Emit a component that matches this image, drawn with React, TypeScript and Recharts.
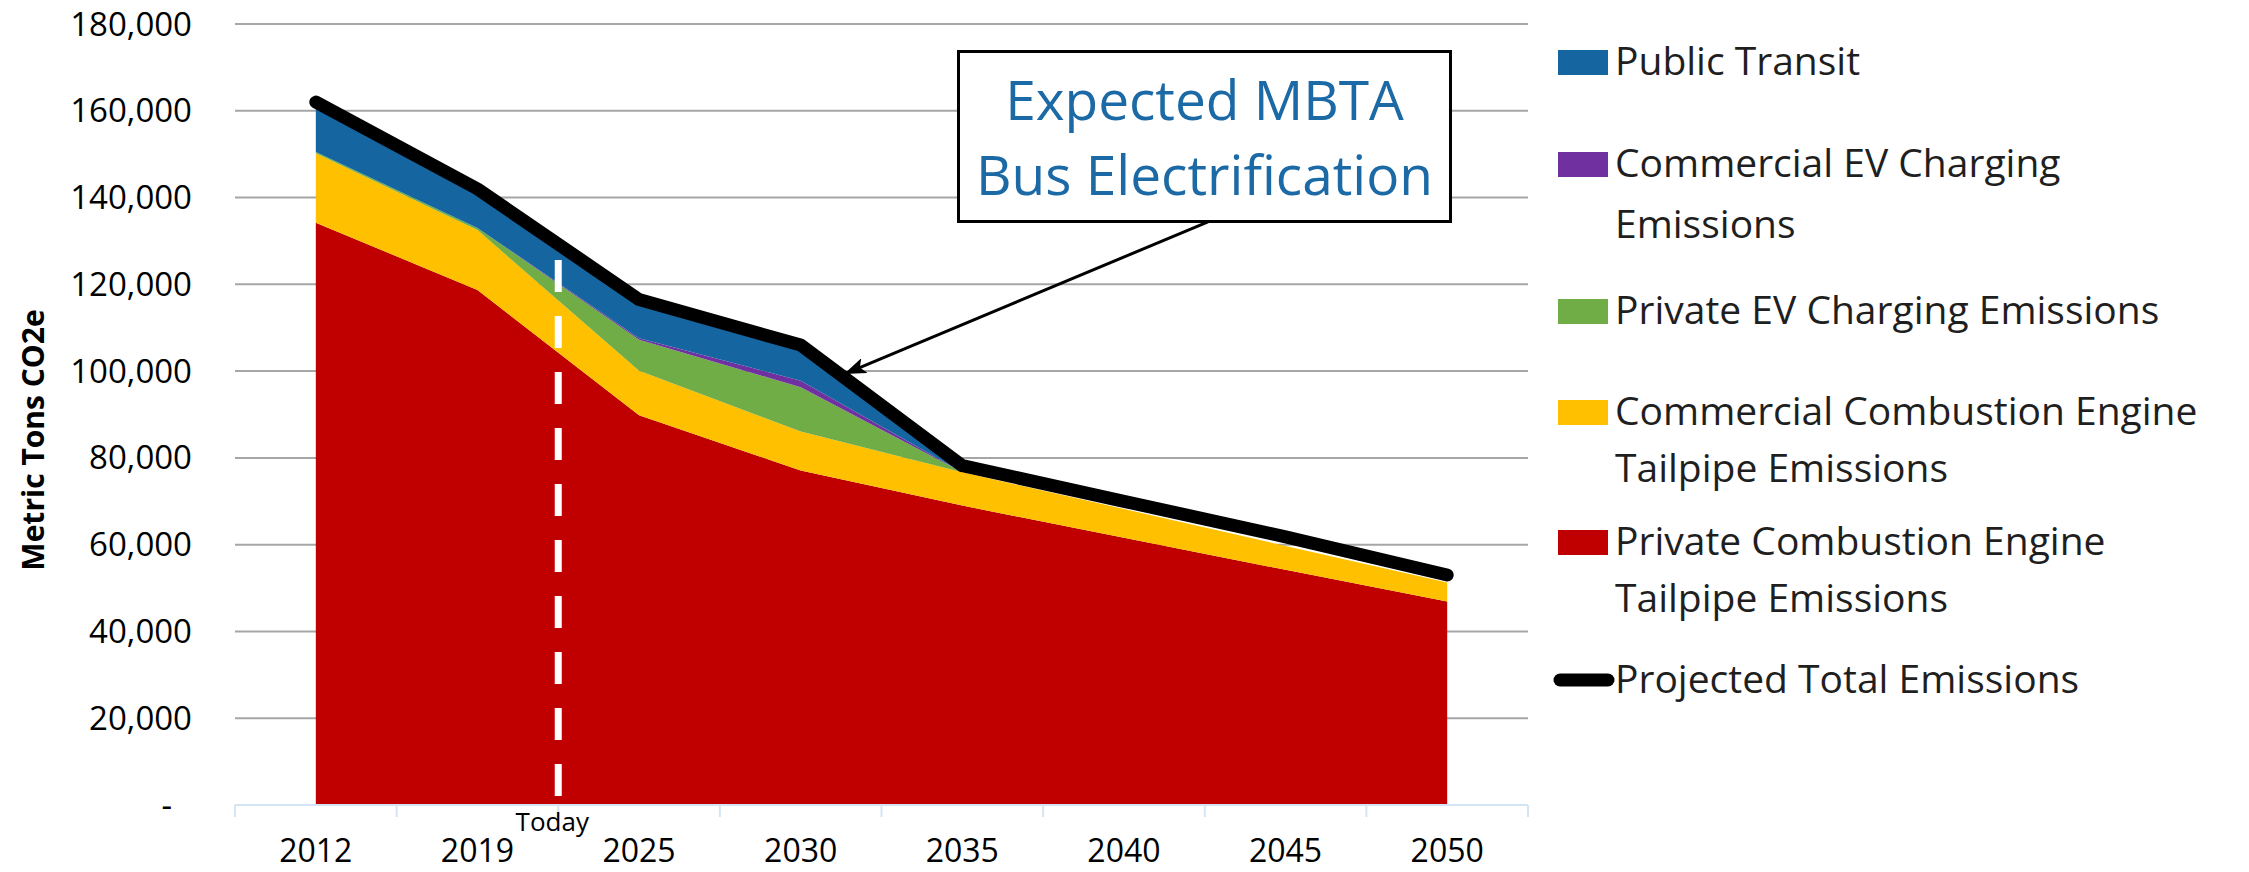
import React from "react";
import {
  ComposedChart,
  Area,
  Line,
  XAxis,
  YAxis,
  CartesianGrid,
  ReferenceLine,
} from "recharts";

const years = ["2012", "2019", "2025", "2030", "2035", "2040", "2045", "2050"];
const privateCombustion = [134200, 118700, 89800, 77100, 69000, 61600, 54200, 46900];
const commercialCombustion = [16000, 13800, 10300, 9000, 7700, 6600, 5500, 4400];
const privateEv = [300, 500, 7100, 10200, 0, 0, 0, 0];
const commercialEv = [0, 0, 400, 1500, 0, 0, 0, 0];
const publicTransit = [11000, 8500, 8400, 7700, 0, 0, 0, 0];
const projectedTotal = [162000, 142000, 116500, 106000, 78200, 70000, 61800, 53000];
const yTicks = [0, 20000, 40000, 60000, 80000, 100000, 120000, 140000, 160000, 180000];
const todayAt = 1.5; // between 2019 and 2025

const data = years.map((year, i) => ({
  idx: i,
  year,
  privateCombustion: privateCombustion[i],
  commercialCombustion: commercialCombustion[i],
  privateEv: privateEv[i],
  commercialEv: commercialEv[i],
  publicTransit: publicTransit[i],
  total: projectedTotal[i],
}));

// stacked bottom -> top
const areaSeries = [
  { key: "privateCombustion", color: "#c00000" },
  { key: "commercialCombustion", color: "#ffc000" },
  { key: "privateEv", color: "#70ad47" },
  { key: "commercialEv", color: "#7030a0" },
  { key: "publicTransit", color: "#1565a0" },
];

const legendItems = [
  { lines: ["Public Transit"], color: "#1565a0", y: [75] },
  { lines: ["Commercial EV Charging", "Emissions"], color: "#7030a0", y: [177, 238] },
  { lines: ["Private EV Charging Emissions"], color: "#70ad47", y: [324] },
  { lines: ["Commercial Combustion Engine", "Tailpipe Emissions"], color: "#ffc000", y: [425, 482] },
  { lines: ["Private Combustion Engine", "Tailpipe Emissions"], color: "#c00000", y: [555, 612] },
  { lines: ["Projected Total Emissions"], color: "#000", y: [693], line: true },
];

const xTicks: number[] = [];
for (let t = -0.5; t <= years.length - 0.5; t += 0.5) xTicks.push(t);

const FONT = "'Open Sans', sans-serif";
const AXIS_BLUE = "#d3e5f4";

const YTick = (props: any) => {
  const { x, y, payload } = props;
  const v = payload.value as number;
  return (
    <text
      x={v === 0 ? x - 20 : x}
      y={y}
      dy="0.35em"
      textAnchor="end"
      fontFamily={FONT}
      fontSize={33}
      fill="#000"
    >
      {v === 0 ? "-" : v.toLocaleString("en-US")}
    </text>
  );
};

const XTick = (props: any) => {
  const { x, y, payload } = props;
  const v = payload.value as number;
  if (Number.isInteger(v)) {
    return (
      <text x={x} y={y + 57} textAnchor="middle" fontFamily={FONT} fontSize={32} fill="#000">
        {years[v]}
      </text>
    );
  }
  return (
    <g>
      <line x1={x} y1={y} x2={x} y2={y + 12} stroke={AXIS_BLUE} strokeWidth={2} />
      {v === todayAt && (
        <text x={x - 6} y={y + 26} textAnchor="middle" fontFamily={FONT} fontSize={26} fill="#000">
          Today
        </text>
      )}
    </g>
  );
};

export default function App() {
  return (
    <div style={{ position: "absolute", left: 0, top: 0, width: 2249, height: 872, background: "#fff" }}>
      <ComposedChart
        width={2249}
        height={872}
        data={data}
        margin={{ top: 24, right: 721, bottom: 0, left: 0 }}
      >
        <CartesianGrid vertical={false} stroke="#a6a6a6" strokeWidth={2} />
        <XAxis
          dataKey="idx"
          type="number"
          domain={[-0.5, years.length - 0.5]}
          ticks={xTicks}
          interval={0}
          height={67}
          tickSize={0}
          tickMargin={0}
          tickLine={false}
          axisLine={{ stroke: AXIS_BLUE, strokeWidth: 2 }}
          tick={<XTick />}
        />
        <YAxis
          type="number"
          domain={[0, 180000]}
          ticks={yTicks}
          width={235}
          tickSize={0}
          tickMargin={43}
          tickLine={false}
          axisLine={false}
          tick={<YTick />}
        />
        {areaSeries.map((s) => (
          <Area
            key={s.key}
            type="linear"
            dataKey={s.key}
            stackId="a"
            stroke="none"
            fill={s.color}
            fillOpacity={1}
            dot={false}
            activeDot={false}
            isAnimationActive={false}
          />
        ))}
        <ReferenceLine
          segment={[
            { x: todayAt, y: 125600 },
            { x: todayAt, y: 0 },
          ]}
          stroke="#fff"
          strokeWidth={7}
          strokeDasharray="32 24"
        />
        <Line
          type="linear"
          dataKey="total"
          stroke="#000"
          strokeWidth={13}
          strokeLinecap="round"
          strokeLinejoin="round"
          dot={false}
          activeDot={false}
          isAnimationActive={false}
        />
        <ReferenceLine
          segment={[
            { x: 5.52, y: 134400 },
            { x: 3.28, y: 99500 },
          ]}
          shape={(p: any) => (
            <line
              x1={p.x1}
              y1={p.y1}
              x2={p.x2}
              y2={p.y2}
              stroke="#000"
              strokeWidth={3}
              markerEnd="url(#arrowHead)"
            />
          )}
        />
      </ComposedChart>

      <svg
        width={2249}
        height={872}
        style={{ position: "absolute", left: 0, top: 0, pointerEvents: "none" }}
      >
        <defs>
          <marker
            id="arrowHead"
            markerUnits="userSpaceOnUse"
            markerWidth={22}
            markerHeight={16}
            refX={20}
            refY={8}
            orient="auto"
          >
            <path d="M0,0 L22,8 L0,16 L5,8 z" fill="#000" />
          </marker>
        </defs>
        <text
          transform="translate(44,440) rotate(-90)"
          textAnchor="middle"
          fontFamily="'Liberation Sans Narrow', 'Open Sans', sans-serif"
          fontWeight="bold"
          fontSize={30}
          fill="#000"
        >
          Metric Tons CO2e
        </text>
        {legendItems.map((item, i) => (
          <g key={i}>
            {item.line ? (
              <line
                x1={1560}
                x2={1608}
                y1={item.y[0] - 13}
                y2={item.y[0] - 13}
                stroke="#000"
                strokeWidth={13}
                strokeLinecap="round"
              />
            ) : (
              <rect x={1558} y={item.y[0] - 25} width={50} height={25} fill={item.color} />
            )}
            {item.lines.map((ln, j) => (
              <text key={j} x={1615} y={item.y[j]} fontFamily={FONT} fontSize={39} fill="#1f1f1f">
                {ln}
              </text>
            ))}
          </g>
        ))}
      </svg>

      <div
        style={{
          position: "absolute",
          left: 957,
          top: 50,
          width: 495,
          height: 173,
          boxSizing: "border-box",
          border: "3px solid #000",
          background: "#fff",
          color: "#1b69a5",
          fontFamily: FONT,
          fontSize: 55,
          lineHeight: "75px",
          paddingTop: 8,
          textAlign: "center",
          whiteSpace: "nowrap",
        }}
      >
        Expected MBTA
        <br />
        Bus Electrification
      </div>
    </div>
  );
}
